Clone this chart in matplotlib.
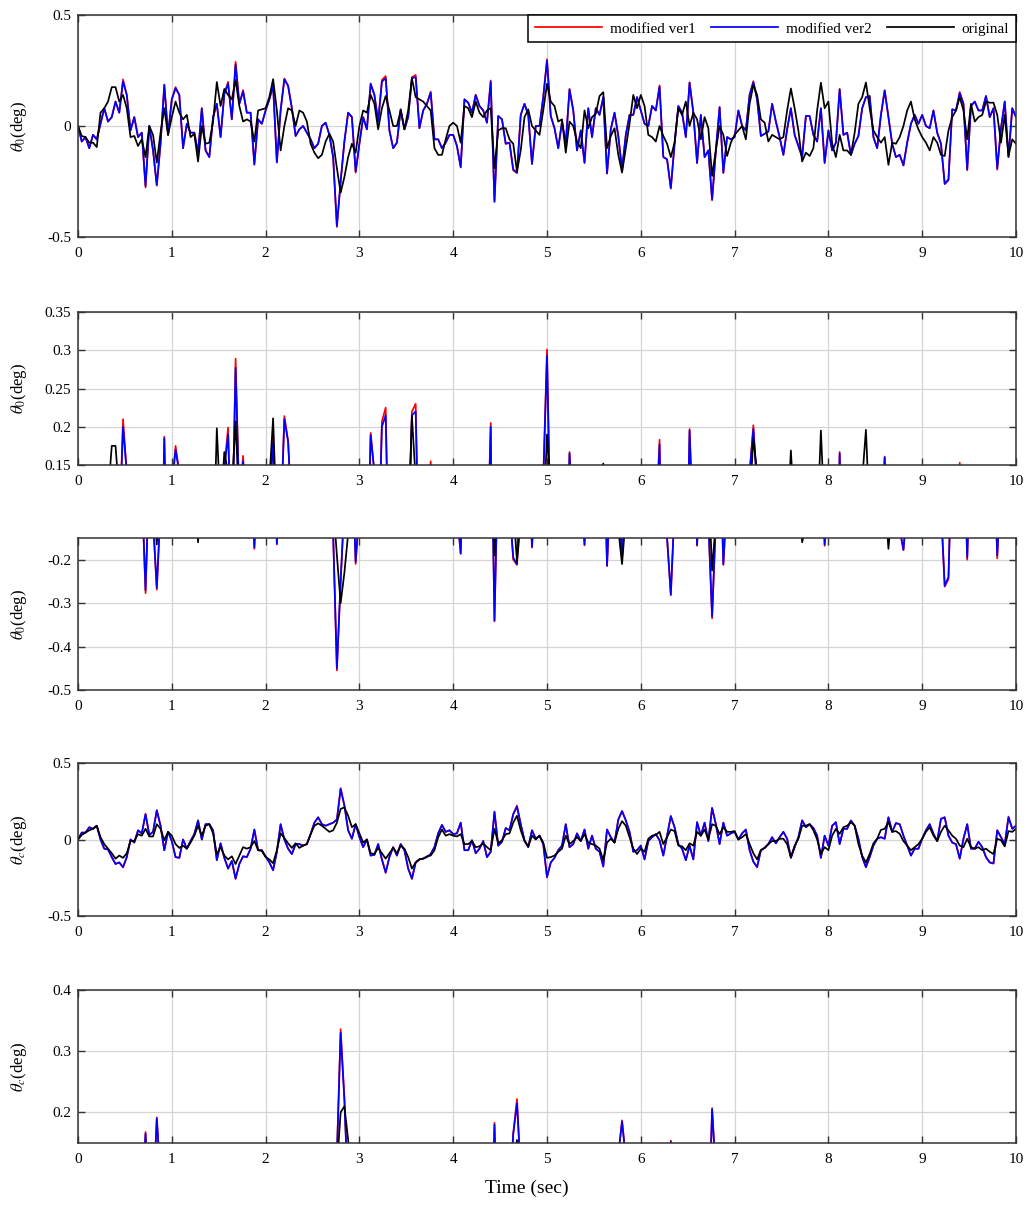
import numpy as np
import matplotlib
matplotlib.use("Agg")
import matplotlib.pyplot as plt
from matplotlib.ticker import FormatStrFormatter

plt.rcParams['font.family'] = ['Liberation Serif', 'DejaVu Serif']
plt.rcParams['mathtext.fontset'] = 'stix'

# time axis: 0..10 s, step 0.04 s
t = np.linspace(0, 10, 251)

# theta_0 (deg)
theta0_ver1 = [
    0.00, -0.07, -0.05, -0.10, -0.04, -0.06, 0.01, 0.08, 0.02, 0.04, 0.11, 0.06, 0.21, 0.14, -0.02, 0.04, -0.05, -0.03, -0.277, 0.00, -0.11, -0.269, -0.08, 0.187, -0.04, 0.12,
    0.175, 0.14, -0.10, 0.01, -0.03, -0.03, -0.12, 0.08, -0.11, -0.14, 0.04, 0.10, -0.05, 0.145, 0.199, 0.03, 0.289, 0.10, 0.162, 0.06, 0.06, -0.175, 0.03, 0.01, 0.07,
    0.12, 0.187, -0.165, 0.07, 0.214, 0.182, 0.08, -0.045, -0.015, 0.0, -0.03, -0.06, -0.10, -0.08, 0.0, 0.015, -0.04, -0.14, -0.455, -0.25, -0.07, 0.06, 0.04, -0.21, -0.08,
    0.04, -0.015, 0.192, 0.14, 0.02, 0.207, 0.225, -0.02, -0.10, -0.075, 0.075, -0.015, 0.04, 0.22, 0.23, -0.01, 0.07, 0.10, 0.155, -0.06, -0.06, -0.10, -0.075, -0.04, -0.04,
    -0.09, -0.187, 0.12, 0.105, 0.06, 0.14, 0.09, 0.07, 0.015, 0.205, -0.342, 0.045, 0.03, -0.08, -0.075, -0.20, -0.212, 0.05, 0.10, 0.05, -0.172, 0.0, 0.0, 0.13, 0.301,
    0.045, -0.01, -0.10, 0.02, -0.08, 0.167, 0.07, -0.11, -0.02, -0.167, 0.08, -0.05, 0.08, 0.05, 0.13, -0.215, -0.015, 0.06, -0.045, -0.197, -0.04, 0.05, 0.05, 0.13, 0.07,
    0.01, 0.0, 0.09, 0.07, 0.183, -0.14, -0.15, -0.282, -0.08, 0.09, 0.06, -0.05, 0.197, 0.06, -0.168, 0.05, -0.14, -0.11, -0.335, -0.11, 0.085, -0.212, -0.05, -0.06, -0.05,
    0.07, 0.0, -0.02, 0.14, 0.202, 0.12, -0.045, -0.035, -0.025, 0.10, 0.02, -0.05, -0.13, -0.015, 0.08, -0.04, -0.09, -0.14, 0.045, 0.045, -0.04, -0.07, 0.08, -0.168, -0.02,
    -0.11, -0.075, 0.167, -0.04, -0.03, -0.13, -0.08, -0.045, 0.08, 0.13, 0.135, -0.05, -0.10, 0.05, 0.161, 0.04, -0.08, -0.14, -0.13, -0.178, -0.075, 0.01, 0.05, 0.01, 0.05,
    0.0, -0.01, 0.07, -0.03, -0.08, -0.262, -0.245, 0.075, 0.07, 0.153, 0.10, -0.20, 0.09, 0.11, 0.07, 0.07, 0.135, 0.04, 0.08, -0.197, -0.01, 0.11, -0.14, 0.08, 0.04,
]
theta0_ver2 = [
    0.00, -0.07, -0.05, -0.10, -0.04, -0.06, 0.01, 0.08, 0.02, 0.04, 0.11, 0.06, 0.20, 0.14, -0.02, 0.04, -0.05, -0.03, -0.27, 0.00, -0.11, -0.265, -0.08, 0.185, -0.04, 0.12,
    0.17, 0.14, -0.10, 0.01, -0.03, -0.03, -0.12, 0.08, -0.11, -0.14, 0.04, 0.10, -0.05, 0.145, 0.19, 0.03, 0.277, 0.10, 0.155, 0.06, 0.06, -0.172, 0.03, 0.01, 0.07,
    0.12, 0.18, -0.163, 0.07, 0.21, 0.18, 0.08, -0.045, -0.015, 0.0, -0.03, -0.06, -0.10, -0.08, 0.0, 0.015, -0.04, -0.14, -0.45, -0.25, -0.07, 0.06, 0.04, -0.205, -0.08,
    0.04, -0.015, 0.189, 0.14, 0.02, 0.20, 0.215, -0.02, -0.10, -0.075, 0.075, -0.015, 0.04, 0.215, 0.22, -0.01, 0.07, 0.10, 0.15, -0.06, -0.06, -0.10, -0.075, -0.04, -0.04,
    -0.09, -0.185, 0.12, 0.105, 0.06, 0.14, 0.09, 0.07, 0.015, 0.20, -0.34, 0.045, 0.03, -0.08, -0.075, -0.195, -0.21, 0.05, 0.10, 0.05, -0.17, 0.0, 0.0, 0.13, 0.293,
    0.045, -0.01, -0.10, 0.02, -0.08, 0.165, 0.07, -0.11, -0.02, -0.165, 0.08, -0.05, 0.08, 0.05, 0.13, -0.213, -0.015, 0.06, -0.045, -0.195, -0.04, 0.05, 0.05, 0.13, 0.07,
    0.01, 0.0, 0.09, 0.07, 0.177, -0.14, -0.15, -0.28, -0.08, 0.09, 0.06, -0.05, 0.195, 0.06, -0.166, 0.05, -0.14, -0.11, -0.33, -0.11, 0.085, -0.21, -0.05, -0.06, -0.05,
    0.07, 0.0, -0.02, 0.14, 0.197, 0.12, -0.045, -0.035, -0.025, 0.10, 0.02, -0.05, -0.13, -0.015, 0.08, -0.04, -0.09, -0.14, 0.045, 0.045, -0.04, -0.07, 0.08, -0.165, -0.02,
    -0.11, -0.075, 0.165, -0.04, -0.03, -0.13, -0.08, -0.045, 0.08, 0.13, 0.135, -0.05, -0.10, 0.05, 0.16, 0.04, -0.08, -0.14, -0.13, -0.177, -0.075, 0.01, 0.05, 0.01, 0.05,
    0.0, -0.01, 0.07, -0.03, -0.08, -0.26, -0.24, 0.075, 0.07, 0.148, 0.10, -0.195, 0.09, 0.11, 0.07, 0.07, 0.135, 0.04, 0.08, -0.19, -0.01, 0.11, -0.14, 0.08, 0.04,
]
theta0_orig = [
    0.0, -0.045, -0.05, -0.075, -0.075, -0.095, 0.06, 0.08, 0.11, 0.175, 0.175, 0.11, 0.14, 0.08, -0.05, -0.045, -0.09, -0.06, -0.14, 0.0, -0.04, -0.165, -0.03, 0.08, -0.04,
    0.04, 0.11, 0.06, 0.03, 0.05, -0.05, -0.035, -0.16, 0.0, -0.08, -0.075, 0.02, 0.198, 0.09, 0.167, 0.14, 0.12, 0.207, 0.09, 0.02, 0.03, 0.02, -0.07, 0.07, 0.075,
    0.08, 0.13, 0.211, 0.07, -0.11, 0.0, 0.08, 0.07, 0.0, 0.07, 0.06, 0.02, -0.08, -0.12, -0.145, -0.13, -0.07, -0.035, -0.07, -0.19, -0.30, -0.23, -0.14, -0.08, -0.12,
    0.0, 0.07, 0.06, 0.14, 0.10, -0.015, 0.08, 0.135, 0.07, 0.0, 0.0, 0.07, -0.015, 0.07, 0.214, 0.13, 0.12, 0.11, 0.09, 0.07, -0.10, -0.13, -0.13, -0.06, 0.0,
    0.015, 0.0, -0.075, 0.09, 0.08, 0.04, 0.11, 0.06, 0.04, 0.07, 0.08, -0.19, -0.02, -0.01, -0.01, -0.06, -0.08, -0.205, -0.11, 0.04, 0.075, 0.0, -0.02, -0.04, 0.07,
    0.19, 0.11, 0.09, 0.02, 0.03, -0.12, 0.02, 0.0, -0.07, -0.10, 0.07, -0.01, 0.04, 0.055, 0.135, 0.152, -0.10, -0.045, -0.01, -0.13, -0.21, -0.10, 0.01, 0.14, 0.08,
    0.14, 0.09, -0.04, -0.05, -0.07, 0.0, -0.045, -0.08, -0.14, -0.075, 0.08, 0.05, 0.11, 0.0, 0.06, 0.03, -0.06, 0.04, -0.01, -0.225, -0.11, 0.0, -0.04, -0.135, -0.075,
    -0.04, -0.02, 0.0, -0.06, 0.10, 0.185, 0.14, 0.03, 0.015, -0.07, -0.04, -0.05, -0.06, -0.05, 0.07, 0.169, 0.08, -0.02, -0.16, -0.12, -0.135, -0.10, 0.07, 0.195, 0.08,
    0.11, -0.08, -0.14, -0.04, -0.11, -0.11, -0.13, -0.03, 0.10, 0.13, 0.196, 0.08, -0.02, -0.05, -0.075, -0.05, -0.175, -0.075, -0.08, -0.05, 0.0, 0.07, 0.11, 0.03, -0.015,
    -0.05, -0.075, -0.11, -0.05, -0.075, -0.13, -0.135, -0.02, 0.04, 0.07, 0.13, 0.07, -0.06, 0.10, 0.02, 0.04, 0.05, 0.11, 0.105, 0.105, 0.05, -0.075, 0.05, -0.135, -0.06, -0.08,
]

# theta_c (deg)
thetac_ver1 = [
    0.0, 0.045, 0.045, 0.08, 0.07, 0.09, 0.0, -0.06, -0.065, -0.115, -0.16, -0.15, -0.183, -0.115, 0.0, -0.02, 0.06, 0.04, 0.168, 0.03, 0.05, 0.192, 0.09, -0.07, 0.05,
    -0.01, -0.115, -0.12, 0.0, -0.06, -0.01, 0.035, 0.125, 0.0, 0.10, 0.10, 0.06, -0.135, -0.025, -0.12, -0.19, -0.14, -0.258, -0.16, -0.11, -0.115, -0.06, 0.065, -0.07, -0.07,
    -0.11, -0.15, -0.202, -0.08, 0.10, 0.0, -0.06, -0.095, -0.03, -0.03, -0.04, -0.03, 0.035, 0.11, 0.145, 0.10, 0.09, 0.10, 0.11, 0.13, 0.336, 0.225, 0.06, 0.005, 0.10,
    0.015, -0.05, 0.0, -0.105, -0.10, -0.03, -0.13, -0.218, -0.115, -0.05, -0.105, -0.03, -0.07, -0.19, -0.258, -0.15, -0.13, -0.125, -0.115, -0.095, -0.05, 0.04, 0.095, 0.05, 0.06,
    0.035, 0.04, 0.11, -0.07, -0.07, -0.005, -0.09, -0.06, -0.01, -0.115, -0.08, 0.183, -0.04, -0.015, 0.075, 0.06, 0.165, 0.222, 0.10, -0.005, -0.05, 0.06, 0.005, 0.025, -0.03,
    -0.248, -0.15, -0.12, -0.07, -0.04, 0.10, -0.05, -0.03, 0.04, -0.01, 0.065, -0.06, 0.025, -0.06, -0.08, -0.178, 0.065, 0.015, -0.02, 0.13, 0.187, 0.125, 0.05, -0.08, -0.07,
    -0.04, -0.13, -0.01, 0.015, 0.035, -0.005, -0.105, 0.025, 0.154, 0.08, -0.03, -0.06, -0.135, -0.04, -0.13, 0.113, 0.025, 0.11, -0.01, 0.207, 0.10, -0.03, 0.11, 0.025, 0.04,
    0.05, 0.0, 0.04, 0.065, -0.07, -0.145, -0.182, -0.07, -0.055, -0.03, 0.015, -0.025, 0.015, 0.05, 0.005, -0.12, -0.05, 0.015, 0.125, 0.08, 0.10, 0.075, 0.025, -0.12, 0.025,
    -0.04, 0.09, 0.113, -0.03, 0.07, 0.07, 0.124, 0.09, 0.005, -0.115, -0.182, -0.115, -0.04, 0.005, 0.015, 0.005, 0.145, 0.05, 0.107, 0.10, 0.025, -0.04, -0.105, -0.06, -0.06,
    0.005, 0.06, 0.10, 0.037, -0.01, 0.135, 0.145, 0.025, -0.02, -0.03, -0.125, 0.005, 0.10, -0.06, -0.06, -0.015, -0.05, -0.115, -0.15, -0.158, 0.06, 0.015, -0.03, 0.15, 0.07, 0.09,
]
thetac_ver2 = [
    0.0, 0.045, 0.045, 0.08, 0.07, 0.09, 0.0, -0.06, -0.065, -0.115, -0.16, -0.15, -0.18, -0.115, 0.0, -0.02, 0.06, 0.04, 0.165, 0.03, 0.05, 0.19, 0.09, -0.07, 0.05,
    -0.01, -0.115, -0.12, 0.0, -0.06, -0.01, 0.035, 0.125, 0.0, 0.10, 0.10, 0.06, -0.135, -0.025, -0.12, -0.19, -0.14, -0.255, -0.16, -0.11, -0.115, -0.06, 0.065, -0.07, -0.07,
    -0.11, -0.15, -0.20, -0.08, 0.10, 0.0, -0.06, -0.095, -0.03, -0.03, -0.04, -0.03, 0.035, 0.11, 0.145, 0.10, 0.09, 0.10, 0.11, 0.13, 0.33, 0.22, 0.06, 0.005, 0.10,
    0.015, -0.05, 0.0, -0.105, -0.10, -0.03, -0.13, -0.215, -0.115, -0.05, -0.105, -0.03, -0.07, -0.19, -0.255, -0.15, -0.13, -0.125, -0.115, -0.095, -0.05, 0.04, 0.095, 0.05, 0.06,
    0.035, 0.04, 0.11, -0.07, -0.07, -0.005, -0.09, -0.06, -0.01, -0.115, -0.08, 0.18, -0.04, -0.015, 0.075, 0.06, 0.165, 0.215, 0.10, -0.005, -0.05, 0.06, 0.005, 0.025, -0.03,
    -0.245, -0.15, -0.12, -0.07, -0.04, 0.10, -0.05, -0.03, 0.04, -0.01, 0.065, -0.06, 0.025, -0.06, -0.08, -0.175, 0.065, 0.015, -0.02, 0.13, 0.185, 0.125, 0.05, -0.08, -0.07,
    -0.04, -0.13, -0.01, 0.015, 0.035, -0.005, -0.105, 0.025, 0.152, 0.08, -0.03, -0.06, -0.135, -0.04, -0.13, 0.113, 0.025, 0.11, -0.01, 0.205, 0.10, -0.03, 0.11, 0.025, 0.04,
    0.05, 0.0, 0.04, 0.065, -0.07, -0.145, -0.18, -0.07, -0.055, -0.03, 0.015, -0.025, 0.015, 0.05, 0.005, -0.12, -0.05, 0.015, 0.125, 0.08, 0.10, 0.075, 0.025, -0.12, 0.025,
    -0.04, 0.09, 0.113, -0.03, 0.07, 0.07, 0.124, 0.09, 0.005, -0.115, -0.18, -0.115, -0.04, 0.005, 0.015, 0.005, 0.145, 0.05, 0.107, 0.10, 0.025, -0.04, -0.105, -0.06, -0.06,
    0.005, 0.06, 0.10, 0.037, -0.01, 0.135, 0.145, 0.025, -0.02, -0.03, -0.125, 0.005, 0.10, -0.06, -0.06, -0.015, -0.05, -0.115, -0.15, -0.155, 0.06, 0.015, -0.03, 0.145, 0.07, 0.09,
]
thetac_orig = [
    0.0, 0.03, 0.045, 0.06, 0.07, 0.09, 0.015, -0.03, -0.06, -0.09, -0.125, -0.105, -0.12, -0.09, -0.01, -0.01, 0.035, 0.025, 0.07, 0.02, 0.02, 0.10, 0.07, -0.005, 0.05,
    0.025, -0.03, -0.055, -0.04, -0.06, -0.02, 0.025, 0.09, 0.025, 0.09, 0.10, 0.04, -0.095, -0.05, -0.105, -0.13, -0.11, -0.16, -0.105, -0.05, -0.06, -0.05, -0.01, -0.07, -0.075,
    -0.115, -0.13, -0.155, -0.07, 0.04, 0.01, -0.025, -0.055, -0.025, -0.055, -0.04, -0.03, 0.035, 0.09, 0.105, 0.09, 0.07, 0.05, 0.06, 0.11, 0.20, 0.21, 0.155, 0.08, 0.10,
    0.04, -0.02, 0.0, -0.09, -0.095, -0.055, -0.09, -0.125, -0.09, -0.055, -0.09, -0.04, -0.06, -0.115, -0.19, -0.15, -0.13, -0.125, -0.11, -0.105, -0.07, 0.015, 0.065, 0.025, 0.035,
    0.025, 0.02, 0.035, -0.03, -0.03, -0.01, -0.05, -0.045, -0.025, -0.05, -0.07, 0.07, -0.025, -0.005, 0.035, 0.04, 0.11, 0.155, 0.06, -0.01, -0.045, 0.025, 0.0, 0.025, -0.02,
    -0.12, -0.115, -0.105, -0.08, -0.06, 0.025, -0.03, -0.01, 0.015, -0.01, 0.035, -0.02, -0.03, -0.04, -0.06, -0.135, -0.02, 0.005, -0.02, 0.07, 0.12, 0.09, 0.015, -0.06, -0.095,
    -0.06, -0.08, 0.005, 0.025, 0.03, 0.05, -0.03, 0.015, 0.065, 0.055, -0.04, -0.045, -0.07, -0.025, -0.04, 0.05, 0.025, 0.065, 0.0, 0.10, 0.09, 0.035, 0.08, 0.05, 0.05,
    0.055, 0.0, 0.015, 0.035, -0.03, -0.09, -0.13, -0.07, -0.055, -0.03, -0.01, -0.01, 0.005, 0.005, -0.03, -0.115, -0.04, 0.005, 0.09, 0.09, 0.10, 0.06, 0.0, -0.095, -0.05,
    -0.07, 0.025, 0.07, 0.037, 0.08, 0.09, 0.113, 0.09, -0.03, -0.105, -0.15, -0.095, -0.025, 0.005, 0.063, 0.07, 0.113, 0.05, 0.055, 0.037, -0.01, -0.04, -0.07, -0.05, -0.03,
    0.005, 0.05, 0.08, 0.025, -0.01, 0.05, 0.09, 0.06, 0.025, 0.005, -0.04, -0.05, 0.005, -0.05, -0.06, -0.05, -0.07, -0.06, -0.08, -0.095, 0.005, -0.005, -0.045, 0.055, 0.05, 0.07,
]

series_labels = ['modified ver1', 'modified ver2', 'original']
series_colors = ['#ff0000', '#0000ff', '#000000']

fig = plt.figure(figsize=(10.3, 12.31), dpi=100)

left, width = 78 / 1030, 938 / 1030
# (top px, bottom px) of each panel
boxes = [(15, 237), (312, 465), (538, 690), (763, 916), (990, 1143)]

panels = [
    (theta0_ver1, theta0_ver2, theta0_orig, (-0.5, 0.5), [-0.5, 0, 0.5], r'$\theta_0$(deg)'),
    (theta0_ver1, theta0_ver2, theta0_orig, (0.15, 0.35), [0.15, 0.2, 0.25, 0.3, 0.35], r'$\theta_0$(deg)'),
    (theta0_ver1, theta0_ver2, theta0_orig, (-0.5, -0.15), [-0.5, -0.4, -0.3, -0.2], r'$\theta_0$(deg)'),
    (thetac_ver1, thetac_ver2, thetac_orig, (-0.5, 0.5), [-0.5, 0, 0.5], r'$\theta_c$(deg)'),
    (thetac_ver1, thetac_ver2, thetac_orig, (0.15, 0.4), [0.2, 0.3, 0.4], r'$\theta_c$(deg)'),
]

axes = []
for (top, bot), (v1, v2, orig, ylim, yticks, ylab) in zip(boxes, panels):
    ax = fig.add_axes([left, 1 - bot / 1231, width, (bot - top) / 1231])
    for data, col, lab in zip([v1, v2, orig], series_colors, series_labels):
        ax.plot(t, data, color=col, lw=1.25, label=lab)
    ax.set_xlim(0, 10)
    ax.set_ylim(*ylim)
    ax.set_xticks(np.arange(0, 11, 1))
    ax.set_yticks(yticks)
    ax.yaxis.set_major_formatter(FormatStrFormatter('%g'))
    ax.grid(True, color='#d4d4d4', lw=0.9)
    ax.set_axisbelow(True)
    ax.tick_params(direction='in', top=True, right=True, length=5, width=1,
                   colors='#333333', labelcolor='black', labelsize=11)
    ax.tick_params(axis='x', pad=7)
    ax.tick_params(axis='y', pad=5)
    for s in ax.spines.values():
        s.set_color('#333333')
        s.set_linewidth(1.1)
    ax.set_ylabel(ylab, fontsize=12)
    ax.yaxis.set_label_coords(-0.052, 0.5)
    axes.append(ax)

leg = axes[0].legend(loc='upper right', ncol=3, fontsize=11, frameon=True,
                     fancybox=False, edgecolor='black', framealpha=1,
                     borderaxespad=0, handlelength=4.4, columnspacing=1.0,
                     handletextpad=0.5, borderpad=0.45)
leg.get_frame().set_linewidth(1.1)

fig.text(527 / 1030, 1 - 1188 / 1231, 'Time (sec)', ha='center', va='center', fontsize=14)

fig.savefig('out.png', dpi=100)
